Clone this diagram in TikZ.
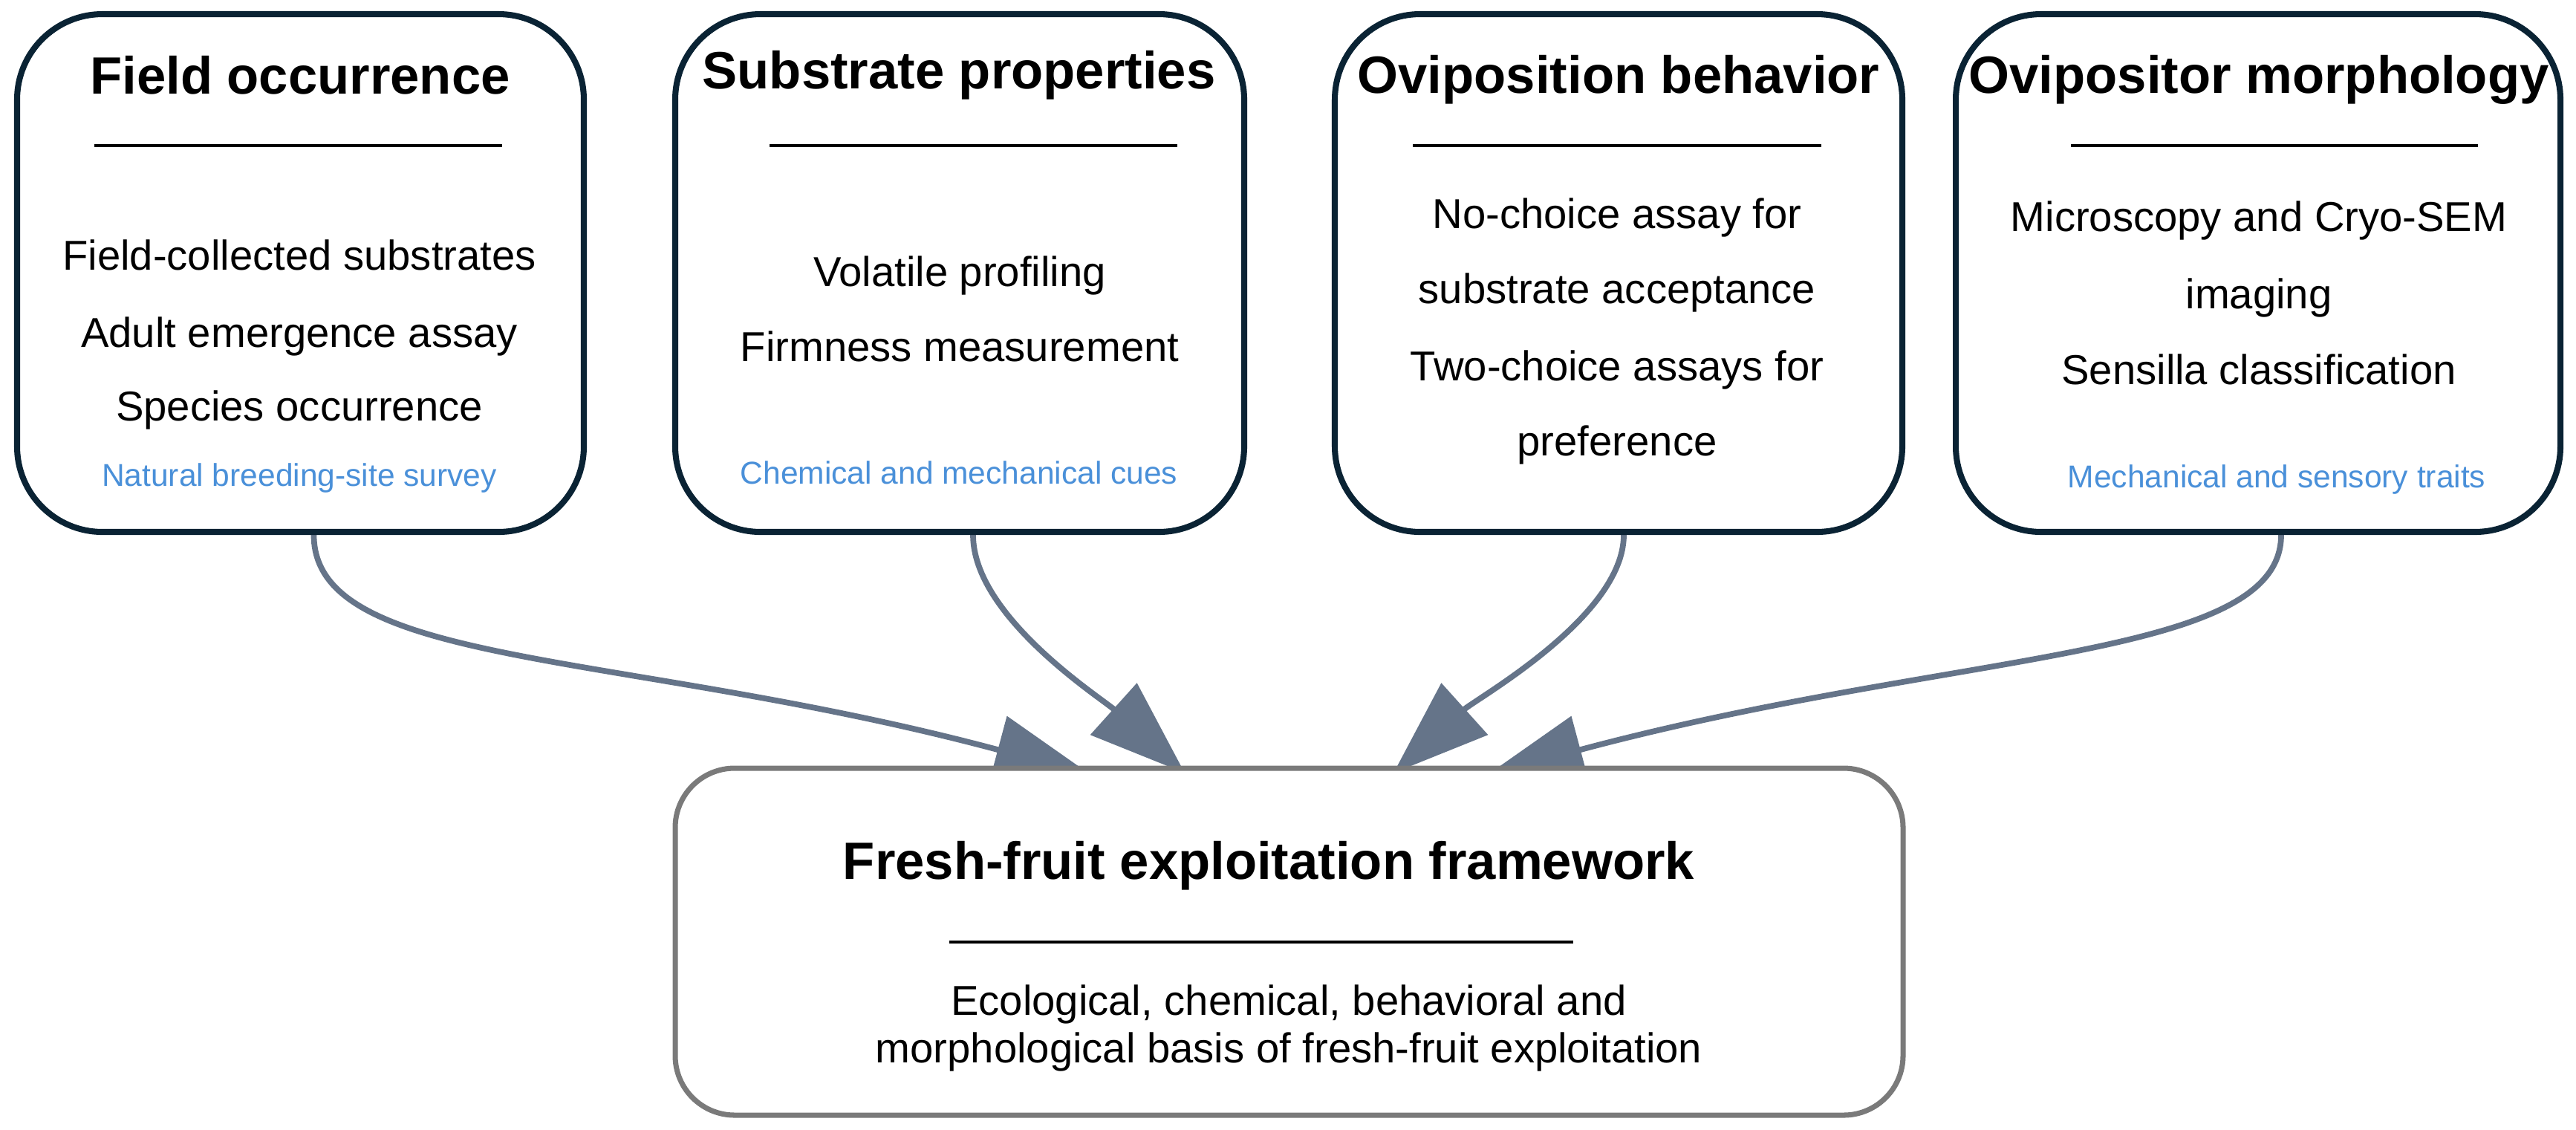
\documentclass[tikz,border=0pt]{standalone}
\usepackage{fontspec}
\setmainfont{Liberation Sans}
\usetikzlibrary{arrows.meta,backgrounds}

\definecolor{boxnavy}{RGB}{10,35,52}
\definecolor{framegray}{RGB}{122,122,122}
\definecolor{linkslate}{RGB}{101,116,137}
\definecolor{noteblue}{RGB}{74,144,217}

\begin{document}
\begin{tikzpicture}[box/.style = {draw = boxnavy, line width = 2.3pt, fill = white, rounded corners = 1.15cm, inner sep = 0pt, minimum height = 6.97cm},
    sumbox/.style = {draw = framegray, line width = 2pt, fill = white, rounded corners = .8cm, inner sep = 0pt},
    ttl/.style = {anchor = base, inner sep = 0pt, font = \fontsize{20.1}{24}\selectfont\bfseries},
    itm/.style = {anchor = base, inner sep = 0pt, font = \fontsize{16}{19}\selectfont},
    note/.style = {anchor = base, inner sep = 0pt, text = noteblue, font = \fontsize{12.1}{14}\selectfont},
    hrule/.style = {line width = 1.15pt},
    link/.style = {draw = linkslate, line width = 2.2pt, -{Triangle[length = 1.29cm, width = .92cm]}}]
    \useasboundingbox (0, 0) rectangle (34.68, -15.2);

    \node (A) at (4.045, -3.675) [box, minimum width = 7.63cm] {};
    \node (B) at (12.92, -3.675) [box, minimum width = 7.66cm] {};
    \node (C) at (21.79, -3.675) [box, minimum width = 7.64cm] {};
    \node (D) at (30.40, -3.675) [box, minimum width = 8.14cm] {};
    \node (E) at (17.355, -12.675) [sumbox, minimum width = 16.53cm, minimum height = 4.67cm] {};

    % field occurrence
    \node (A0) at (4.04, -1.265) [ttl] {Field occurrence};
    \draw[hrule] (1.27, -1.96) -- (6.76, -1.96);
    \node (A1) at (4.03, -3.63) [itm] {Field-collected substrates};
    \node (A2) at (4.03, -4.67) [itm] {Adult emergence assay};
    \node (A3) at (4.03, -5.66) [itm] {Species occurrence};
    \node (A4) at (4.03, -6.54) [note] {Natural breeding-site survey};

    % substrate properties
    \node (B0) at (12.91, -1.19) [ttl] {Substrate properties};
    \draw[hrule] (10.36, -1.96) -- (15.85, -1.96);
    \node (B1) at (12.92, -3.85) [itm] {Volatile profiling};
    \node (B2) at (12.92, -4.86) [itm] {Firmness measurement};
    \node (B3) at (12.91, -6.51) [note] {Chemical and mechanical cues};

    % oviposition behavior
    \node (C0) at (21.79, -1.25) [ttl] {Oviposition behavior};
    \draw[hrule] (19.02, -1.96) -- (24.52, -1.96);
    \node (C1) at (21.77, -3.07) [itm] {No-choice assay for};
    \node (C2) at (21.77, -4.08) [itm] {substrate acceptance};
    \node (C3) at (21.77, -5.12) [itm] {Two-choice assays for};
    \node (C4) at (21.77, -6.13) [itm] {preference};

    % ovipositor morphology
    \node (D0) at (30.41, -1.25) [ttl] {Ovipositor morphology};
    \draw[hrule] (27.88, -1.96) -- (33.36, -1.96);
    \node (D1) at (30.41, -3.11) [itm] {Microscopy and Cryo-SEM};
    \node (D2) at (30.41, -4.15) [itm] {imaging};
    \node (D3) at (30.41, -5.17) [itm] {Sensilla classification};
    \node (D4) at (30.65, -6.56) [note] {Mechanical and sensory traits};

    % framework
    \node (E0) at (17.08, -11.83) [ttl] {Fresh-fruit exploitation framework};
    \draw[hrule] (12.78, -12.68) -- (21.18, -12.68);
    \node (E1) at (17.35, -13.66) [itm] {Ecological, chemical, behavioral and};
    \node (E2) at (17.35, -14.30) [itm] {morphological basis of fresh-fruit exploitation};

    \begin{scope}[on background layer]
        \draw[link] ([xshift = .18cm]A.south) .. controls +(0, -1.8) and +(165:6.5) .. ([xshift = -2.675cm, yshift = -.12cm]E.north);
        \draw[link] ([xshift = .18cm]B.south) .. controls +(0, -1.1) and +(138:1.5) .. ([xshift = -1.405cm, yshift = -.10cm]E.north);
        \draw[link] ([xshift = .07cm]C.south) .. controls +(0, -1.1) and +(42:1.5) .. ([xshift = 1.405cm, yshift = -.10cm]E.north);
        \draw[link] ([xshift = .31cm]D.south) .. controls +(0, -1.7) and +(15:6.5) .. ([xshift = 2.675cm, yshift = -.12cm]E.north);
    \end{scope}
\end{tikzpicture}
\end{document}
